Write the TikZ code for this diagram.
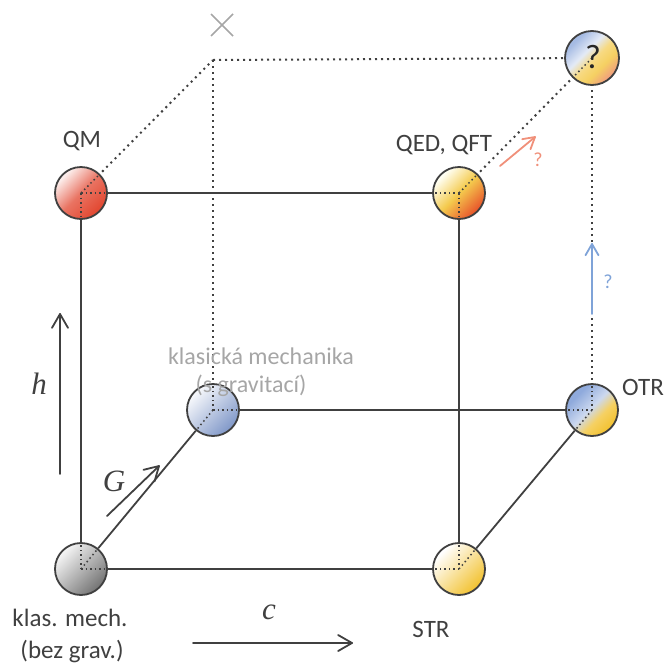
\documentclass[tikz,border=0pt]{standalone}
\usepackage{fontspec}
\setmainfont{Carlito}
\newfontfamily\symserif{Liberation Serif}
\usetikzlibrary{calc}

\definecolor{gold}{HTML}{F2C12E}
\definecolor{sky}{HTML}{8FAADC}
\definecolor{steel}{HTML}{7F97C8}
\definecolor{flame}{HTML}{E8502A}
\definecolor{rosy}{HTML}{E2452E}
\definecolor{salmon}{HTML}{F09A80}

% ball shadings: colour runs from the upper left to the lower right
\pgfdeclarehorizontalshading{grayball}{100bp}{color(0bp)=(white); color(27bp)=(white!95!black); color(75bp)=(black!55); color(100bp)=(black!55)}
\pgfdeclarehorizontalshading{redball}{100bp}{color(0bp)=(white); color(27bp)=(white!90!rosy); color(50bp)=(rosy!75!white); color(75bp)=(rosy); color(100bp)=(rosy)}
\pgfdeclarehorizontalshading{blueball}{100bp}{color(0bp)=(white); color(27bp)=(white!92!steel); color(75bp)=(steel); color(100bp)=(steel)}
\pgfdeclarehorizontalshading{yellowball}{100bp}{color(0bp)=(white); color(27bp)=(white); color(75bp)=(gold); color(100bp)=(gold)}
\pgfdeclarehorizontalshading{qedball}{100bp}{color(0bp)=(white); color(27bp)=(white!95!yellow); color(50bp)=(gold!85); color(75bp)=(flame); color(100bp)=(flame)}
\pgfdeclarehorizontalshading{otrball}{100bp}{color(0bp)=(sky); color(30bp)=(sky); color(48bp)=(sky!45!white); color(60bp)=(gold!75); color(75bp)=(gold); color(100bp)=(gold)}
\pgfdeclarehorizontalshading{topball}{100bp}{color(0bp)=(sky!80); color(28bp)=(sky!80); color(42bp)=(sky!25!white); color(52bp)=(gold!60!white); color(62bp)=(gold!75); color(75bp)=(salmon); color(100bp)=(salmon)}

\definecolor{ink}{HTML}{404040}
\definecolor{faint}{HTML}{A6A6A6}
\definecolor{askred}{HTML}{F0907A}
\definecolor{askblue}{HTML}{7FA3D8}

\tikzset{
  ball/.style={circle, draw=ink, line width=1.8pt, minimum size=52pt, inner sep=0pt, shading angle=-45},
  edge/.style={draw=ink, line width=1.8pt},
  hidden/.style={draw=ink, line width=2pt, dash pattern=on 2pt off 4pt},
  seen/.style={draw=ink, line width=1.5pt, dash pattern=on 1.5pt off 3pt},
  lbl/.style={text=ink, font=\fontsize{25}{29}\selectfont, align=center},
  glbl/.style={text=faint, font=\fontsize{24}{28}\selectfont, align=center},
  sym/.style={text=ink, font=\symserif\itshape\fontsize{31}{31}\selectfont},
  axis/.style={draw=ink, line width=1.8pt, line cap=round, line join=round},
  ask/.style={line width=1.8pt, line cap=round, line join=round},
}

% shaft from #2 to #3 with an open chevron of length #4 at #3
\newcommand\chevarrow[4]{%
  \draw (#2) -- (#3);
  \draw ($(#3)!#4!30:(#2)$) -- (#3) -- ($(#3)!#4!-30:(#2)$);}

\begin{document}
\begin{tikzpicture}[x=1pt,y=-1pt]
\useasboundingbox (0,0) rectangle (666,664);

% hidden back corner
\coordinate (corner) at (213,60);

% back edges, dotted
\draw[hidden] (81,193) -- (corner);
\draw[hidden] (corner) -- (592,58);
\draw[hidden] (corner) -- (213,410);
\draw[hidden] (459,193) -- (592,58);
\draw[hidden] (592,410) -- (592,58);

% balls
\node[ball, shading=redball]    (qm)   at (81,193)  {};
\node[ball, shading=qedball]    (qed)  at (459,193) {};
\node[ball, shading=grayball]   (klas) at (81,569)  {};
\node[ball, shading=yellowball] (str)  at (459,569) {};
\node[ball, shading=blueball]   (kmg)  at (213,410) {};
\node[ball, shading=otrball]    (otr)  at (592,410) {};
\node[ball, shading=topball, minimum size=54pt] (top) at (592,58) {};

% front edges, solid
\draw[edge] (qm) -- (qed);
\draw[edge] (qm) -- (klas);
\draw[edge] (qed) -- (str);
\draw[edge] (klas) -- (str);
\draw[edge] (klas) -- (kmg);
\draw[edge] (kmg) -- (otr);
\draw[edge] (str) -- (otr);

% edges seen through the balls
\foreach \a/\b in {qm/qed, qm/klas, qm/corner, qed/qm, qed/str, qed/top,
                   klas/qm, klas/str, klas/kmg, str/klas, str/qed, str/otr,
                   kmg/klas, kmg/otr, kmg/corner, otr/kmg, otr/str, otr/top, top/qed}
  \draw[seen] (\a.center) -- ($(\a.center)!25pt!(\b)$);

% question mark over its hidden edge
\node[font=\fontsize{34}{34}\selectfont, text=black!85] (qmark) at ([xshift=1pt,yshift=1pt]top.center) {?};

% back corner mark
\draw[faint, line width=1.6pt] (211,14) -- (233,36) (233,14) -- (211,36);

% labels
\node[lbl] (lqm)  at (82,141)  {QM};
\node[lbl] (lqed) at (444,145) {QED, QFT};
\node[lbl] (lotr) at (643,387) {OTR};
\node[lbl] (lstr) at (431,629) {STR};
\node[lbl] (lkl1) at (70,618)  {klas. mech.};
\node[lbl] (lkl2) at (72,651)  {(bez grav.)};
\node[glbl] (lkg1) at (261,356) {klasická mechanika};
\node[glbl] (lkg2) at (251,386) {(s gravitací)};

% constants switched on along each axis
\coordinate (h0) at (60,474);
\coordinate (h1) at (60,314);
\begin{scope}[axis]
  \chevarrow{}{h0}{h1}{16pt}
\end{scope}
\node[sym] (hl) at (39,384) {h};
\coordinate (g0) at (107,516);
\coordinate (g1) at (159,466);
\begin{scope}[axis]
  \chevarrow{}{g0}{g1}{16pt}
\end{scope}
\node[sym] (gl) at (114,481) {G};
\coordinate (c0) at (193,643);
\coordinate (c1) at (352,643);
\begin{scope}[axis]
  \chevarrow{}{c0}{c1}{16pt}
\end{scope}
\node[sym] (cl) at (269,612) {c};

% open questions
\coordinate (r0) at (500,166);
\coordinate (r1) at (535,137);
\begin{scope}[ask, askred]
  \chevarrow{}{r0}{r1}{13pt}
\end{scope}
\node[text=askred, font=\fontsize{20}{20}\selectfont] (rq) at (538,160) {?};
\coordinate (b0) at (592,314);
\coordinate (b1) at (592,244);
\begin{scope}[ask, askblue]
  \chevarrow{}{b0}{b1}{13pt}
\end{scope}
\node[text=askblue, font=\fontsize{20}{20}\selectfont] (bq) at (608,282) {?};
\end{tikzpicture}
\end{document}
